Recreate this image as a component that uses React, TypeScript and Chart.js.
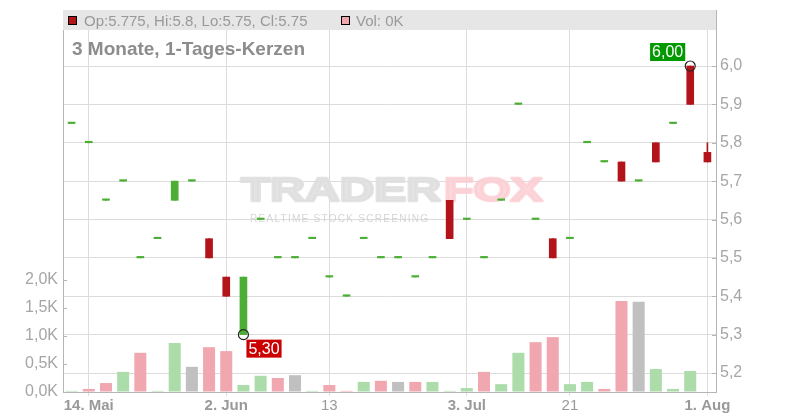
import React, { useEffect, useRef } from "react";
import { Chart, registerables } from "chart.js";

Chart.register(...registerables);

const xLabels: string[] = [
  "", "14. Mai", "", "", "", "", "", "", "", "2. Jun",
  "", "", "", "", "", "13", "", "", "", "",
  "", "", "", "3. Jul", "", "", "", "", "", "21",
  "", "", "", "", "", "", "", "1. Aug",
];
const boldLabels = ["14. Mai", "2. Jun", "3. Jul", "1. Aug"];

const opens = [5.85, 5.8, 5.65, 5.7, 5.5, 5.55, 5.65, 5.7, 5.55, 5.45, 5.3, 5.6, 5.5, 5.5, 5.55, 5.45, 5.4, 5.55, 5.5, 5.5, 5.45, 5.5, 5.65, 5.6, 5.5, 5.65, 5.9, 5.6, 5.55, 5.55, 5.8, 5.75, 5.75, 5.7, 5.8, 5.85, 6.0, 5.775];
const highs = [5.85, 5.8, 5.65, 5.7, 5.5, 5.55, 5.7, 5.7, 5.55, 5.45, 5.45, 5.6, 5.5, 5.5, 5.55, 5.45, 5.4, 5.55, 5.5, 5.5, 5.45, 5.5, 5.65, 5.6, 5.5, 5.65, 5.9, 5.6, 5.55, 5.55, 5.8, 5.75, 5.75, 5.7, 5.8, 5.85, 6.0, 5.8];
const lows = [5.85, 5.8, 5.65, 5.7, 5.5, 5.55, 5.65, 5.7, 5.5, 5.4, 5.3, 5.6, 5.5, 5.5, 5.55, 5.45, 5.4, 5.55, 5.5, 5.5, 5.45, 5.5, 5.55, 5.6, 5.5, 5.65, 5.9, 5.6, 5.5, 5.55, 5.8, 5.75, 5.7, 5.7, 5.75, 5.85, 5.9, 5.75];
const closes = [5.85, 5.8, 5.65, 5.7, 5.5, 5.55, 5.7, 5.7, 5.5, 5.4, 5.45, 5.6, 5.5, 5.5, 5.55, 5.45, 5.4, 5.55, 5.5, 5.5, 5.45, 5.5, 5.55, 5.6, 5.5, 5.65, 5.9, 5.6, 5.5, 5.55, 5.8, 5.75, 5.7, 5.7, 5.75, 5.85, 5.9, 5.75];
const volumes = [20, 55, 160, 360, 700, 20, 875, 450, 800, 730, 125, 290, 250, 300, 20, 125, 20, 180, 200, 180, 180, 180, 20, 70, 360, 140, 700, 890, 980, 140, 180, 55, 1625, 1610, 410, 55, 375, 0];

const priceTicks = [5.2, 5.3, 5.4, 5.5, 5.6, 5.7, 5.8, 5.9, 6.0];
const volumeTicks = [0, 500, 1000, 1500, 2000];
const lowMarkIndex = 10;
const highMarkIndex = 36;
const titleText = "3 Monate, 1-Tages-Kerzen";

const FONT = "'Liberation Sans', Arial, Helvetica, sans-serif";

export default function App() {
  const ref = useRef<HTMLCanvasElement>(null);

  useEffect(() => {
    document.body.style.margin = "0";
    const canvas = ref.current!;
    Chart.defaults.font.family = FONT;

    const up = "#4cae34";
    const down = "#b3141a";
    const volUp = "#acdcaa";
    const volDown = "#f0a7af";
    const volFlat = "#c0c0c0";

    const candleColors = opens.map((o, i) => (closes[i] >= o ? up : down));
    const volColors = closes.map((c, i) =>
      i === 0 ? volUp : c > closes[i - 1] ? volUp : c < closes[i - 1] ? volDown : volFlat
    );
    const markerData = closes.map((_, i) =>
      i === lowMarkIndex ? lows[i] : i === highMarkIndex ? highs[i] : null
    );
    const fmt2 = (v: number) => v.toFixed(2).replace(".", ",");
    const last = closes.length - 1;

    const noPad = (s: any) => {
      s.paddingTop = 0;
      s.paddingBottom = 0;
      s.paddingLeft = 0;
      s.paddingRight = 0;
    };

    const overlay = {
      id: "overlay",
      beforeDatasetsDraw(chart: any) {
        const { ctx, chartArea: a } = chart;
        ctx.save();
        // watermark
        ctx.font = `bold 33px ${FONT}`;
        ctx.textBaseline = "alphabetic";
        ctx.lineJoin = "round";
        const w1 = ctx.measureText("TRADER").width;
        const sx = 200 / w1;
        ctx.save();
        ctx.translate(241, 201);
        ctx.scale(sx, 1);
        ctx.lineWidth = 2.5;
        ctx.fillStyle = "rgba(222,222,222,0.85)";
        ctx.strokeStyle = "rgba(222,222,222,0.85)";
        ctx.fillText("TRADER", 0, 0);
        ctx.strokeText("TRADER", 0, 0);
        ctx.fillStyle = "rgba(251,205,210,0.8)";
        ctx.strokeStyle = "rgba(251,205,210,0.8)";
        ctx.fillText("FOX", w1 + 2, 0);
        ctx.strokeText("FOX", w1 + 2, 0);
        ctx.restore();
        ctx.font = `10px ${FONT}`;
        const sub = "REALTIME STOCK SCREENING";
        (ctx as any).letterSpacing = "0px";
        const ws = ctx.measureText(sub).width;
        (ctx as any).letterSpacing = `${(178 - ws) / (sub.length - 1)}px`;
        ctx.fillStyle = "rgba(208,208,208,0.9)";
        ctx.fillText(sub, 250, 222);
        (ctx as any).letterSpacing = "0px";
        // header band
        ctx.fillStyle = "#e6e6e6";
        ctx.fillRect(a.left, a.top, a.right - a.left, 20);
        // title
        ctx.fillStyle = "#8c8c8c";
        ctx.font = `bold 19px ${FONT}`;
        ctx.fillText(titleText, 72, 55);
        ctx.restore();
      },
      afterDatasetsDraw(chart: any) {
        const { ctx } = chart;
        const meta = chart.getDatasetMeta(3);
        ctx.save();
        ctx.font = `16px ${FONT}`;
        ctx.textBaseline = "middle";
        markerData.forEach((v, i) => {
          if (v === null) return;
          const p = meta.data[i];
          const txt = fmt2(v);
          const w = ctx.measureText(txt).width + 4;
          const h = 18;
          let bx: number, by: number, bg: string;
          if (i === lowMarkIndex) {
            bx = p.x + 3;
            by = p.y + 5;
            bg = "#cc0000";
          } else {
            bx = p.x - 5 - w;
            by = p.y - 5 - h;
            bg = "#009900";
          }
          ctx.fillStyle = bg;
          ctx.fillRect(bx, by, w, h);
          ctx.fillStyle = "#ffffff";
          ctx.fillText(txt, bx + 2, by + h / 2 + 1);
        });
        ctx.restore();
      },
      afterDraw(chart: any) {
        const { ctx, chartArea: a } = chart;
        ctx.save();
        // inward tick marks
        ctx.strokeStyle = "#b5b5b5";
        ctx.lineWidth = 1;
        const yv = chart.scales.yv;
        yv.ticks.forEach((t: any) => {
          const y = Math.round(yv.getPixelForValue(t.value)) + 0.5;
          ctx.beginPath();
          ctx.moveTo(a.left, y);
          ctx.lineTo(a.left + 4, y);
          ctx.stroke();
        });
        const yp = chart.scales.y;
        yp.ticks.forEach((t: any) => {
          const y = Math.round(yp.getPixelForValue(t.value)) + 0.5;
          ctx.beginPath();
          ctx.moveTo(a.right - 4, y);
          ctx.lineTo(a.right, y);
          ctx.stroke();
        });
        // header legend
        ctx.lineWidth = 1;
        ctx.strokeStyle = "#000";
        ctx.fillStyle = candleColors[last];
        ctx.fillRect(68.5, 16.5, 8, 8);
        ctx.strokeRect(68.5, 16.5, 8, 8);
        ctx.font = `15px ${FONT}`;
        ctx.textBaseline = "alphabetic";
        ctx.fillStyle = "#999999";
        ctx.fillText(
          `Op:${opens[last]}, Hi:${highs[last]}, Lo:${lows[last]}, Cl:${closes[last]}`,
          84,
          26
        );
        ctx.fillStyle = volColors[last];
        ctx.fillRect(341.5, 16.5, 8, 8);
        ctx.strokeRect(341.5, 16.5, 8, 8);
        ctx.fillStyle = "#999999";
        ctx.fillText(`Vol: ${Math.round(volumes[last] / 1000)}K`, 356, 26);
        ctx.restore();
      },
    };

    const chart = new Chart(canvas, {
      type: "bar",
      data: {
        labels: xLabels,
        datasets: [
          {
            type: "bar",
            label: "wick",
            data: lows.map((l, i) => [l, highs[i]]) as any,
            yAxisID: "y",
            backgroundColor: candleColors,
            barThickness: 1,
            grouped: false,
            order: 3,
          },
          {
            type: "bar",
            label: "body",
            data: opens.map((o, i) => [o, closes[i]]) as any,
            yAxisID: "y",
            backgroundColor: candleColors,
            barThickness: 7,
            minBarLength: 1.5,
            grouped: false,
            order: 2,
          },
          {
            type: "bar",
            label: "volume",
            data: volumes,
            yAxisID: "yv",
            backgroundColor: volColors,
            barPercentage: 0.7,
            categoryPercentage: 1,
            grouped: false,
            order: 4,
          },
          {
            type: "line",
            label: "marks",
            data: markerData as any,
            yAxisID: "y",
            showLine: false,
            pointRadius: 5,
            pointBorderWidth: 1.2,
            pointBorderColor: "#222",
            pointBackgroundColor: "rgba(0,0,0,0)",
            order: 1,
          } as any,
        ],
      },
      options: {
        responsive: false,
        animation: false,
        devicePixelRatio: 1,
        layout: { padding: { top: 10, left: 0, right: 0, bottom: 0 } },
        plugins: {
          legend: { display: false },
          title: { display: false },
          tooltip: { enabled: false },
        },
        scales: {
          x: {
            type: "category",
            offset: true,
            grid: {
              offset: false,
              color: (c: any) => (xLabels[c.index] ? "#dcdcdc" : "rgba(0,0,0,0)"),
              tickLength: 4,
            },
            border: { color: "#b5b5b5" },
            ticks: {
              autoSkip: false,
              maxRotation: 0,
              minRotation: 0,
              padding: 1,
              color: "#999999",
              font: (c: any) => ({
                size: 15,
                family: FONT,
                weight: boldLabels.includes(xLabels[c.index]) ? "bold" : "normal",
              }),
            },
            afterFit: (s: any) => {
              s.height = 28;
              noPad(s);
            },
          },
          yv: {
            type: "linear",
            position: "left",
            min: 0,
            max: 6821,
            afterBuildTicks: (s: any) => {
              s.ticks = volumeTicks.map((v) => ({ value: v }));
            },
            grid: { drawOnChartArea: false, drawTicks: false },
            border: { color: "#b5b5b5" },
            ticks: {
              color: "#a6a6a6",
              font: { size: 16 },
              padding: 5,
              callback: (v: any) => (Number(v) / 1000).toFixed(1).replace(".", ",") + "K",
            },
            afterFit: (s: any) => {
              s.width = 63;
              noPad(s);
            },
          },
          y: {
            type: "linear",
            position: "right",
            min: 5.1505,
            max: 6.146,
            afterBuildTicks: (s: any) => {
              s.ticks = priceTicks.map((v) => ({ value: v }));
            },
            grid: { color: "#dcdcdc", drawTicks: false },
            border: { color: "#b5b5b5" },
            ticks: {
              color: "#a6a6a6",
              font: { size: 16 },
              padding: 4,
              callback: (v: any) => Number(v).toFixed(1).replace(".", ","),
            },
            afterFit: (s: any) => {
              s.width = 84;
              noPad(s);
            },
          },
        },
      } as any,
      plugins: [overlay as any],
    });

    return () => chart.destroy();
  }, []);

  return (
    <div style={{ position: "fixed", left: 0, top: 0, width: 800, height: 420, background: "#fff" }}>
      <canvas ref={ref} width={800} height={420} style={{ width: 800, height: 420, display: "block" }} />
    </div>
  );
}
